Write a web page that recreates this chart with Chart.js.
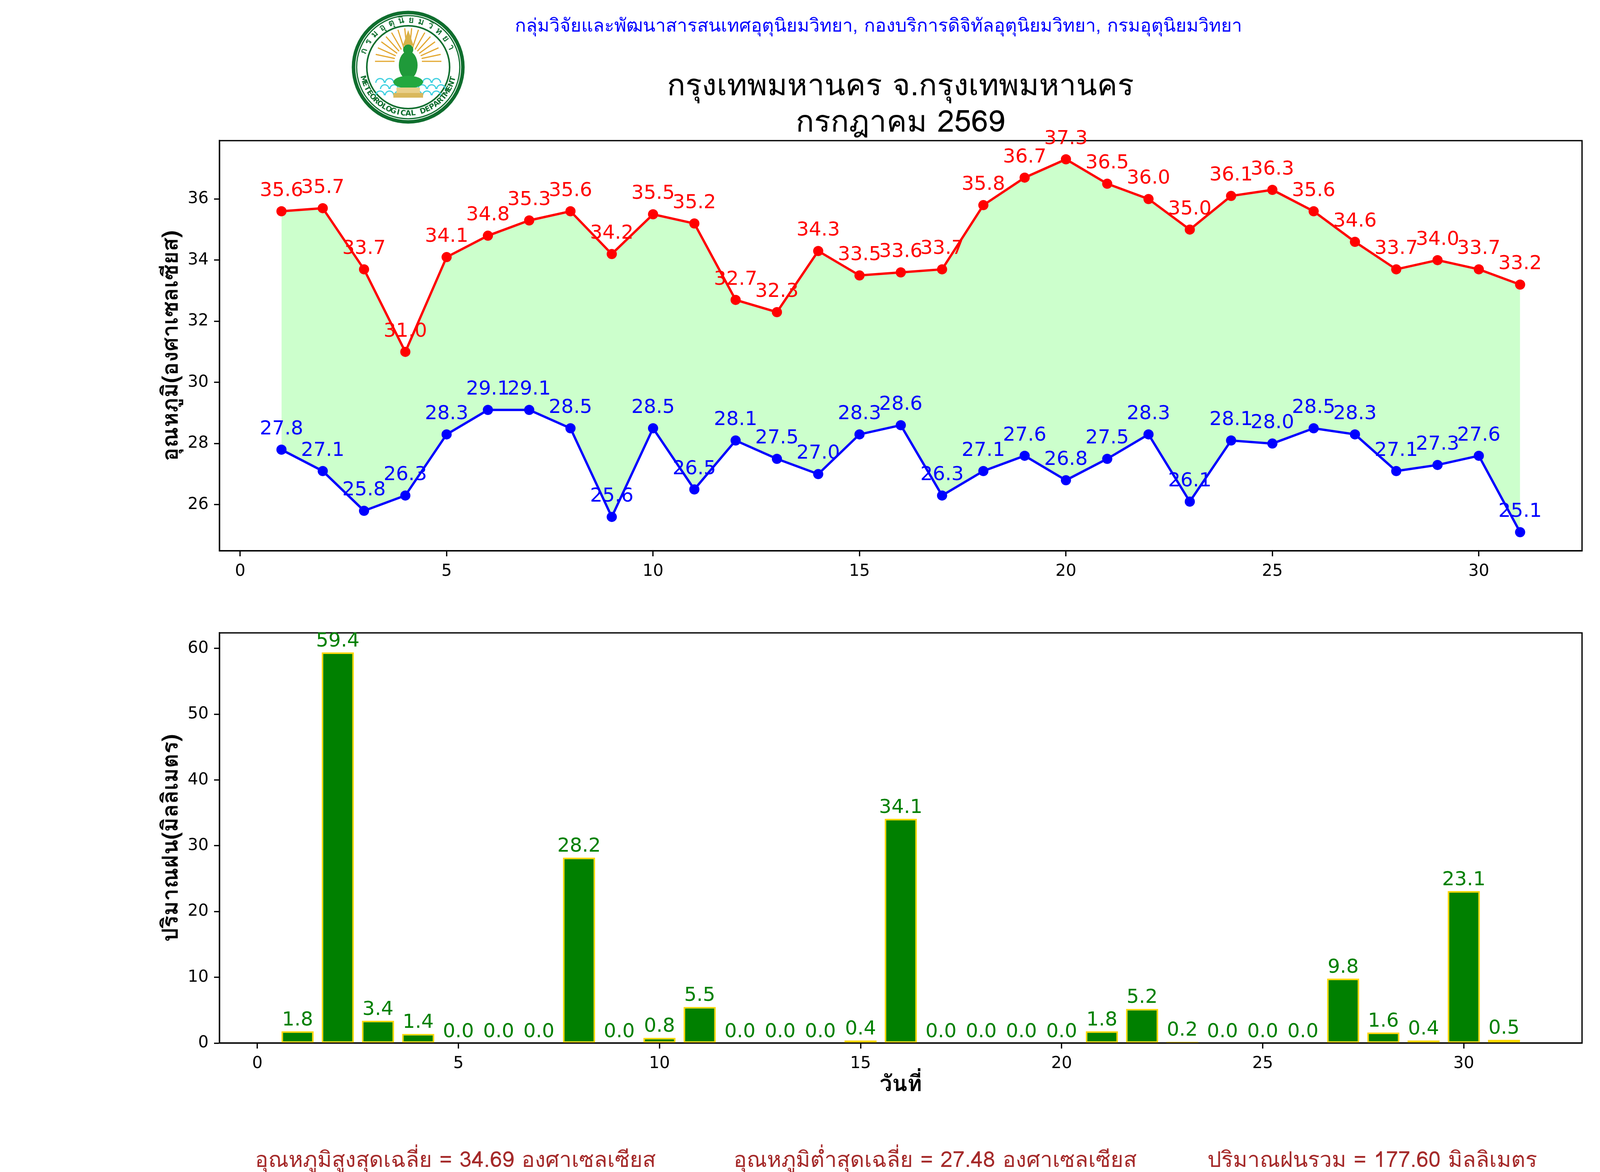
<!DOCTYPE html>
<html>
<head>
<meta charset="utf-8">
<script src="https://cdn.jsdelivr.net/npm/chart.js@4.4.1/dist/chart.umd.min.js"></script>
<style>
  html, body { margin: 0; padding: 0; background: #fff; }
  #page { position: relative; width: 4500px; height: 3000px; background: #fff; overflow: hidden;
          font-family: "Garuda", "Loma", "Noto Sans Thai", "Tlwg Typo", "DejaVu Sans", sans-serif; }
  .txt { position: absolute; white-space: nowrap; text-align: center; }
  canvas { position: absolute; }
</style>
</head>
<body>
<div id="page">
  <canvas id="logo" width="300" height="300" style="left:895px; top:22px;"></canvas>
  <div class="txt" style="left:749px; width:3000px; top:36px; font-size:47px; line-height:58px; color:#0000ff;">กลุ่มวิจัยและพัฒนาสารสนเทศอุตุนิยมวิทยา, กองบริการดิจิทัลอุตุนิยมวิทยา, กรมอุตุนิยมวิทยา</div>
  <div class="txt" style="left:805px; width:3000px; top:170px; font-size:78px; line-height:93px; color:#000;">กรุงเทพมหานคร จ.กรุงเทพมหานคร<br>กรกฎาคม 2569</div>
  <canvas id="tempChart" width="4500" height="1560" style="left:0; top:0;"></canvas>
  <canvas id="rainChart" width="4500" height="1400" style="left:0; top:1500px;"></canvas>
  <div class="txt" style="left:166px; width:2000px; top:2936px; font-size:56px; line-height:64px; color:#a52a2a;">อุณหภูมิสูงสุดเฉลี่ย = 34.69 องศาเซลเซียส</div>
  <div class="txt" style="left:1394px; width:2000px; top:2936px; font-size:56px; line-height:64px; color:#a52a2a;">อุณหภูมิต่ำสุดเฉลี่ย = 27.48 องศาเซลเซียส</div>
  <div class="txt" style="left:2513px; width:2000px; top:2936px; font-size:56px; line-height:64px; color:#a52a2a;">ปริมาณฝนรวม = 177.60 มิลลิเมตร</div>
</div>
<script>
// daily values, July 2569
const days = [1,2,3,4,5,6,7,8,9,10,11,12,13,14,15,16,17,18,19,20,21,22,23,24,25,26,27,28,29,30,31];
const tMax = [35.6,35.7,33.7,31.0,34.1,34.8,35.3,35.6,34.2,35.5,35.2,32.7,32.3,34.3,33.5,33.6,33.7,35.8,36.7,37.3,36.5,36.0,35.0,36.1,36.3,35.6,34.6,33.7,34.0,33.7,33.2];
const tMin = [27.8,27.1,25.8,26.3,28.3,29.1,29.1,28.5,25.6,28.5,26.5,28.1,27.5,27.0,28.3,28.6,26.3,27.1,27.6,26.8,27.5,28.3,26.1,28.1,28.0,28.5,28.3,27.1,27.3,27.6,25.1];
const rain = [1.8,59.4,3.4,1.4,0.0,0.0,0.0,28.2,0.0,0.8,5.5,0.0,0.0,0.0,0.4,34.1,0.0,0.0,0.0,0.0,1.8,5.2,0.2,0.0,0.0,0.0,9.8,1.6,0.4,23.1,0.5];

const dayTicks = [0,5,10,15,20,25,30];
const tempTicks = [26,28,30,32,34,36];
const rainTicks = [0,10,20,30,40,50,60];

const tickFont = { family: 'DejaVu Sans', size: 42 };
const thaiFont = '"Garuda", "Loma", "Noto Sans Thai", "Tlwg Typo", "DejaVu Sans", sans-serif';
const labelFont = { family: thaiFont, size: 57, weight: 'bold' };

// matplotlib-like autoscale with 5% margins
function pad(lo, hi) { const m = (hi - lo) * 0.05; return [lo - m, hi + m]; }
const dayRange = pad(Math.min(...days), Math.max(...days));
const tempRange = pad(Math.min(...tMin), Math.max(...tMax));
const barRange = pad(Math.min(...days) - 0.4, Math.max(...days) + 0.4);
const rainTop = Math.max(...rain) * 1.05;

const frame = {
  id: 'frame',
  afterDatasetsDraw(chart) {
    const a = chart.chartArea, ctx = chart.ctx;
    ctx.save();
    ctx.strokeStyle = '#000';
    ctx.lineWidth = 3.3;
    ctx.strokeRect(a.left, a.top, a.right - a.left, a.bottom - a.top);
    ctx.restore();
  }
};

const valueLabels = {
  id: 'valueLabels',
  afterDatasetsDraw(chart, args, opts) {
    const ctx = chart.ctx, xs = chart.scales.x, ys = chart.scales.y;
    ctx.save();
    ctx.font = '50px "DejaVu Sans"';
    ctx.textAlign = 'center';
    ctx.textBaseline = 'alphabetic';
    chart.data.datasets.forEach(ds => {
      ctx.fillStyle = ds.labelColor;
      ds.data.forEach(p => {
        ctx.fillText(p.y.toFixed(1), xs.getPixelForValue(p.x), ys.getPixelForValue(p.y + opts.offset));
      });
    });
    ctx.restore();
  }
};

function axisX(range, ticks, extra) {
  return Object.assign({
    type: 'linear', min: range[0], max: range[1], offset: false,
    afterBuildTicks: s => { s.ticks = ticks.map(v => ({ value: v })); },
    grid: { drawOnChartArea: false, drawTicks: true, tickLength: 14, tickWidth: 3.3, tickColor: '#000', offset: false },
    border: { display: true, color: '#000', width: 3.3 },
    ticks: { font: tickFont, color: '#000', padding: 14, maxRotation: 0, autoSkip: false }
  }, extra || {});
}
function axisY(min, max, ticks, label) {
  return {
    type: 'linear', min: min, max: max,
    afterBuildTicks: s => { s.ticks = ticks.map(v => ({ value: v })); },
    afterFit: s => { s.width = 162; },
    grid: { drawOnChartArea: false, drawTicks: true, tickLength: 14, tickWidth: 3.3, tickColor: '#000' },
    border: { display: true, color: '#000', width: 3.3 },
    ticks: { font: tickFont, color: '#000', padding: 14 },
    title: { display: true, text: label, color: '#000', font: labelFont, padding: { top: 8, bottom: 0 } }
  };
}

new Chart(document.getElementById('tempChart'), {
  type: 'line',
  data: {
    datasets: [
      {
        label: 'max',
        data: days.map((d, i) => ({ x: d, y: tMax[i] })),
        borderColor: '#ff0000', backgroundColor: '#ccffcc',
        pointBackgroundColor: '#ff0000', pointBorderWidth: 0, pointRadius: 13,
        borderWidth: 6, tension: 0, fill: '+1', labelColor: '#ff0000'
      },
      {
        label: 'min',
        data: days.map((d, i) => ({ x: d, y: tMin[i] })),
        borderColor: '#0000ff',
        pointBackgroundColor: '#0000ff', pointBorderWidth: 0, pointRadius: 13,
        borderWidth: 6, tension: 0, fill: false, labelColor: '#0000ff'
      }
    ]
  },
  options: {
    responsive: false, animation: false, devicePixelRatio: 1,
    layout: { padding: { left: 400, right: 450, top: 360, bottom: 0 } },
    plugins: {
      legend: { display: false }, tooltip: { enabled: false },
      filler: { drawTime: 'beforeDatasetsDraw' },
      valueLabels: { offset: 0.5 }
    },
    scales: {
      x: axisX(dayRange, dayTicks, { afterFit: s => { s.height = 150; } }),
      y: axisY(tempRange[0], tempRange[1], tempTicks, 'อุณหภูมิ(องศาเซลเซียส)')
    }
  },
  plugins: [frame, valueLabels]
});

new Chart(document.getElementById('rainChart'), {
  type: 'bar',
  data: {
    datasets: [{
      label: 'rain',
      data: days.map((d, i) => ({ x: d, y: rain[i] })),
      backgroundColor: '#008000', borderColor: '#ffd700', borderWidth: 4, borderSkipped: false,
      barPercentage: 1, categoryPercentage: 0.8, labelColor: '#008000'
    }]
  },
  options: {
    responsive: false, animation: false, devicePixelRatio: 1,
    layout: { padding: { left: 400, right: 450, top: 120, bottom: 0 } },
    plugins: { legend: { display: false }, tooltip: { enabled: false }, valueLabels: { offset: 0.9 } },
    scales: {
      x: axisX(barRange, dayTicks, {
        afterFit: s => { s.height = 230; },
        title: { display: true, text: 'วันที่', color: '#000', font: labelFont, padding: { top: 0, bottom: 86 } }
      }),
      y: axisY(0, rainTop, rainTicks, 'ปริมาณฝน(มิลลิเมตร)')
    }
  },
  plugins: [frame, valueLabels]
});

// simplified department seal
(function drawLogo() {
  const g = document.getElementById('logo').getContext('2d');
  const cx = 150, cy = 150;
  const green = '#0f6e2e';
  g.fillStyle = '#fff';
  g.beginPath(); g.arc(cx, cy, 146, 0, Math.PI * 2); g.fill();
  g.strokeStyle = green;
  g.lineWidth = 9; g.beginPath(); g.arc(cx, cy, 140, 0, Math.PI * 2); g.stroke();
  g.lineWidth = 3; g.beginPath(); g.arc(cx, cy, 132, 0, Math.PI * 2); g.stroke();
  g.lineWidth = 4; g.beginPath(); g.arc(cx, cy, 106, 0, Math.PI * 2); g.stroke();

  // rays
  g.strokeStyle = '#e3a72f'; g.lineWidth = 3;
  for (let k = 0; k < 16; k++) {
    const a = Math.PI + k * Math.PI / 15;
    g.beginPath();
    g.moveTo(cx + 35 * Math.cos(a), cy - 15 + 35 * Math.sin(a));
    g.lineTo(cx + 85 * Math.cos(a), cy - 15 + 85 * Math.sin(a));
    g.stroke();
  }
  // waves
  g.strokeStyle = '#3fd0e0'; g.lineWidth = 3;
  for (let row = 0; row < 3; row++) {
    for (let k = -3; k <= 3; k++) {
      g.beginPath();
      g.arc(cx + k * 24 + (row % 2) * 12, cy + 40 + row * 16, 11, Math.PI, 0);
      g.stroke();
    }
  }
  // figure
  g.fillStyle = '#d8b24a';
  g.beginPath(); g.moveTo(cx, cy - 95); g.lineTo(cx + 14, cy - 55); g.lineTo(cx - 14, cy - 55); g.closePath(); g.fill();
  g.fillStyle = '#1f9a3a';
  g.beginPath(); g.arc(cx, cy - 45, 13, 0, Math.PI * 2); g.fill();
  g.beginPath(); g.ellipse(cx, cy - 5, 24, 36, 0, 0, Math.PI * 2); g.fill();
  g.fillStyle = '#23a83f';
  g.beginPath(); g.ellipse(cx, cy + 38, 38, 16, 0, 0, Math.PI * 2); g.fill();
  g.fillStyle = '#e9d08a';
  g.fillRect(cx - 30, cy + 52, 60, 14);
  g.fillStyle = '#d9b85c';
  g.fillRect(cx - 38, cy + 66, 76, 12);

  // ring text
  const seg = (s) => (typeof Intl !== 'undefined' && Intl.Segmenter)
    ? Array.from(new Intl.Segmenter('th', { granularity: 'grapheme' }).segment(s), x => x.segment)
    : Array.from(s);
  g.fillStyle = green;
  g.textAlign = 'center'; g.textBaseline = 'middle';
  const top = seg('กรมอุตุนิยมวิทยา');
  g.font = 'bold 24px ' + thaiFont;
  const a0 = 200 * Math.PI / 180, a1 = 335 * Math.PI / 180;
  top.forEach((ch, i) => {
    const a = a0 + (a1 - a0) * i / (top.length - 1);
    g.save();
    g.translate(cx + 119 * Math.cos(a), cy + 119 * Math.sin(a));
    g.rotate(a + Math.PI / 2);
    g.fillText(ch, 0, 0);
    g.restore();
  });
  const bot = Array.from('METEOROLOGICAL DEPARTMENT');
  g.font = 'bold 19px "DejaVu Sans"';
  const b0 = 165 * Math.PI / 180, b1 = 15 * Math.PI / 180;
  bot.forEach((ch, i) => {
    const a = b0 + (b1 - b0) * i / (bot.length - 1);
    g.save();
    g.translate(cx + 119 * Math.cos(a), cy + 119 * Math.sin(a));
    g.rotate(a - Math.PI / 2);
    g.fillText(ch, 0, 0);
    g.restore();
  });
})();
</script>
</body>
</html>
